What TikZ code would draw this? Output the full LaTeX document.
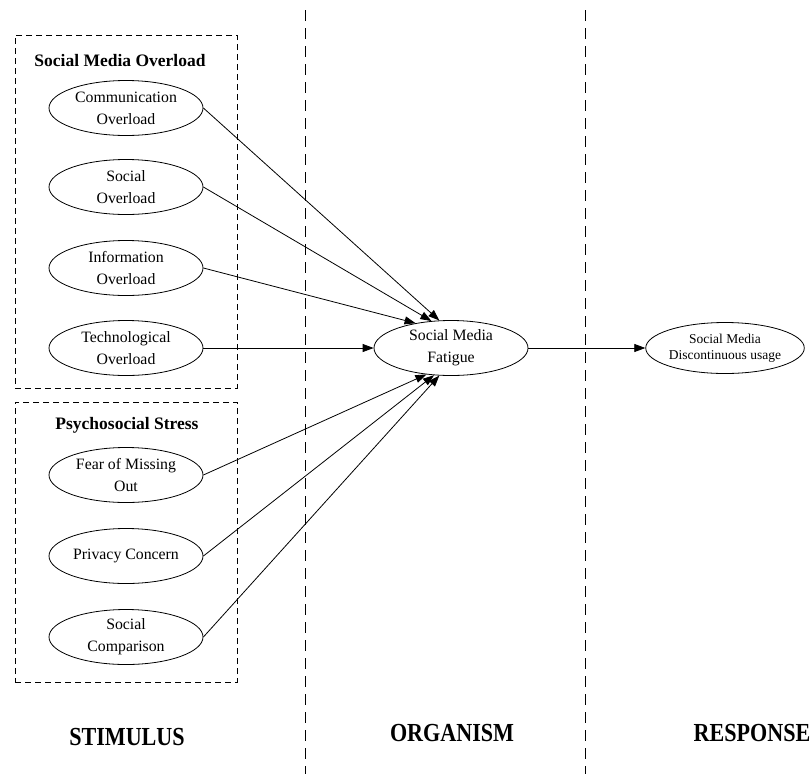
\documentclass[tikz,border=0pt]{standalone}
\usepackage{fontspec}
\setmainfont{Liberation Serif}
\usetikzlibrary{arrows.meta,shapes.geometric}
\begin{document}
\begin{tikzpicture}[x=1pt,y=-1pt,
  var/.style={draw,ellipse,line width=0.8pt,minimum width=154pt,minimum height=55pt,inner sep=0pt,align=center,font=\fontsize{15.8}{22}\selectfont},
  grp/.style={draw,line width=0.8pt,dash pattern=on 6pt off 4pt},
  sep/.style={line width=0.9pt,dash pattern=on 11pt off 7pt},
  title/.style={font=\bfseries\fontsize{17.5}{20}\selectfont},
  stage/.style={font=\bfseries\fontsize{26}{30}\selectfont,xscale=0.85},
  link/.style={line width=0.8pt,-{Triangle[length=11pt,width=8pt]}}]
\useasboundingbox (0,0) rectangle (810,774);
\fill[white] (0,0) rectangle (810,774);
% separators
\coordinate (s1a) at (305,10); \coordinate (s1b) at (305,774);
\coordinate (s2a) at (585,10); \coordinate (s2b) at (585,774);
\draw[sep] (s1a) -- (s1b);
\draw[sep] (s2a) -- (s2b);
% group boxes
\node[grp,minimum width=222pt,minimum height=353pt,inner sep=0pt] (g1) at (126,211.5) {};
\node[grp,minimum width=222pt,minimum height=280pt,inner sep=0pt] (g2) at (126,542) {};
\node[title] (t1) at (120,61) {Social Media Overload};
\node[title] (t2) at (127,425) {Psychosocial Stress};
% variables
\node[var] (co) at (126,108) {Communication\\Overload};
\node[var] (so) at (126,187) {Social\\Overload};
\node[var] (io) at (126,268) {Information\\Overload};
\node[var] (to) at (126,348) {Technological\\Overload};
\node[var] (fo) at (126,475) {Fear of Missing\\Out};
\node[var] (pc) at (126,556) {Privacy Concern};
\node[var] (sc) at (126,637) {Social\\Comparison};
\node[var] (fa) at (451,348) {Social Media\\Fatigue};
\node[var,minimum height=51pt,font=\fontsize{13.5}{16}\selectfont] (du) at (725,348) {Social Media\\Discontinuous usage};
% links
\draw[link] (co.east) -- (fa.113);
\draw[link] (so.east) -- (fa.126);
\draw[link] (io.east) -- (fa.145);
\draw[link] (to.east) -- (fa.west);
\draw[link] (fo.east) -- (fa.227);
\draw[link] (pc.east) -- (fa.238);
\draw[link] (sc.east) -- (fa.247);
\draw[link] (fa.east) -- (du.west);
% stages
\node[stage] (st) at (127,737) {STIMULUS};
\node[stage] (or) at (452,733) {ORGANISM};
\node[stage] (re) at (752,733) {RESPONSE};
\end{tikzpicture}
\end{document}
